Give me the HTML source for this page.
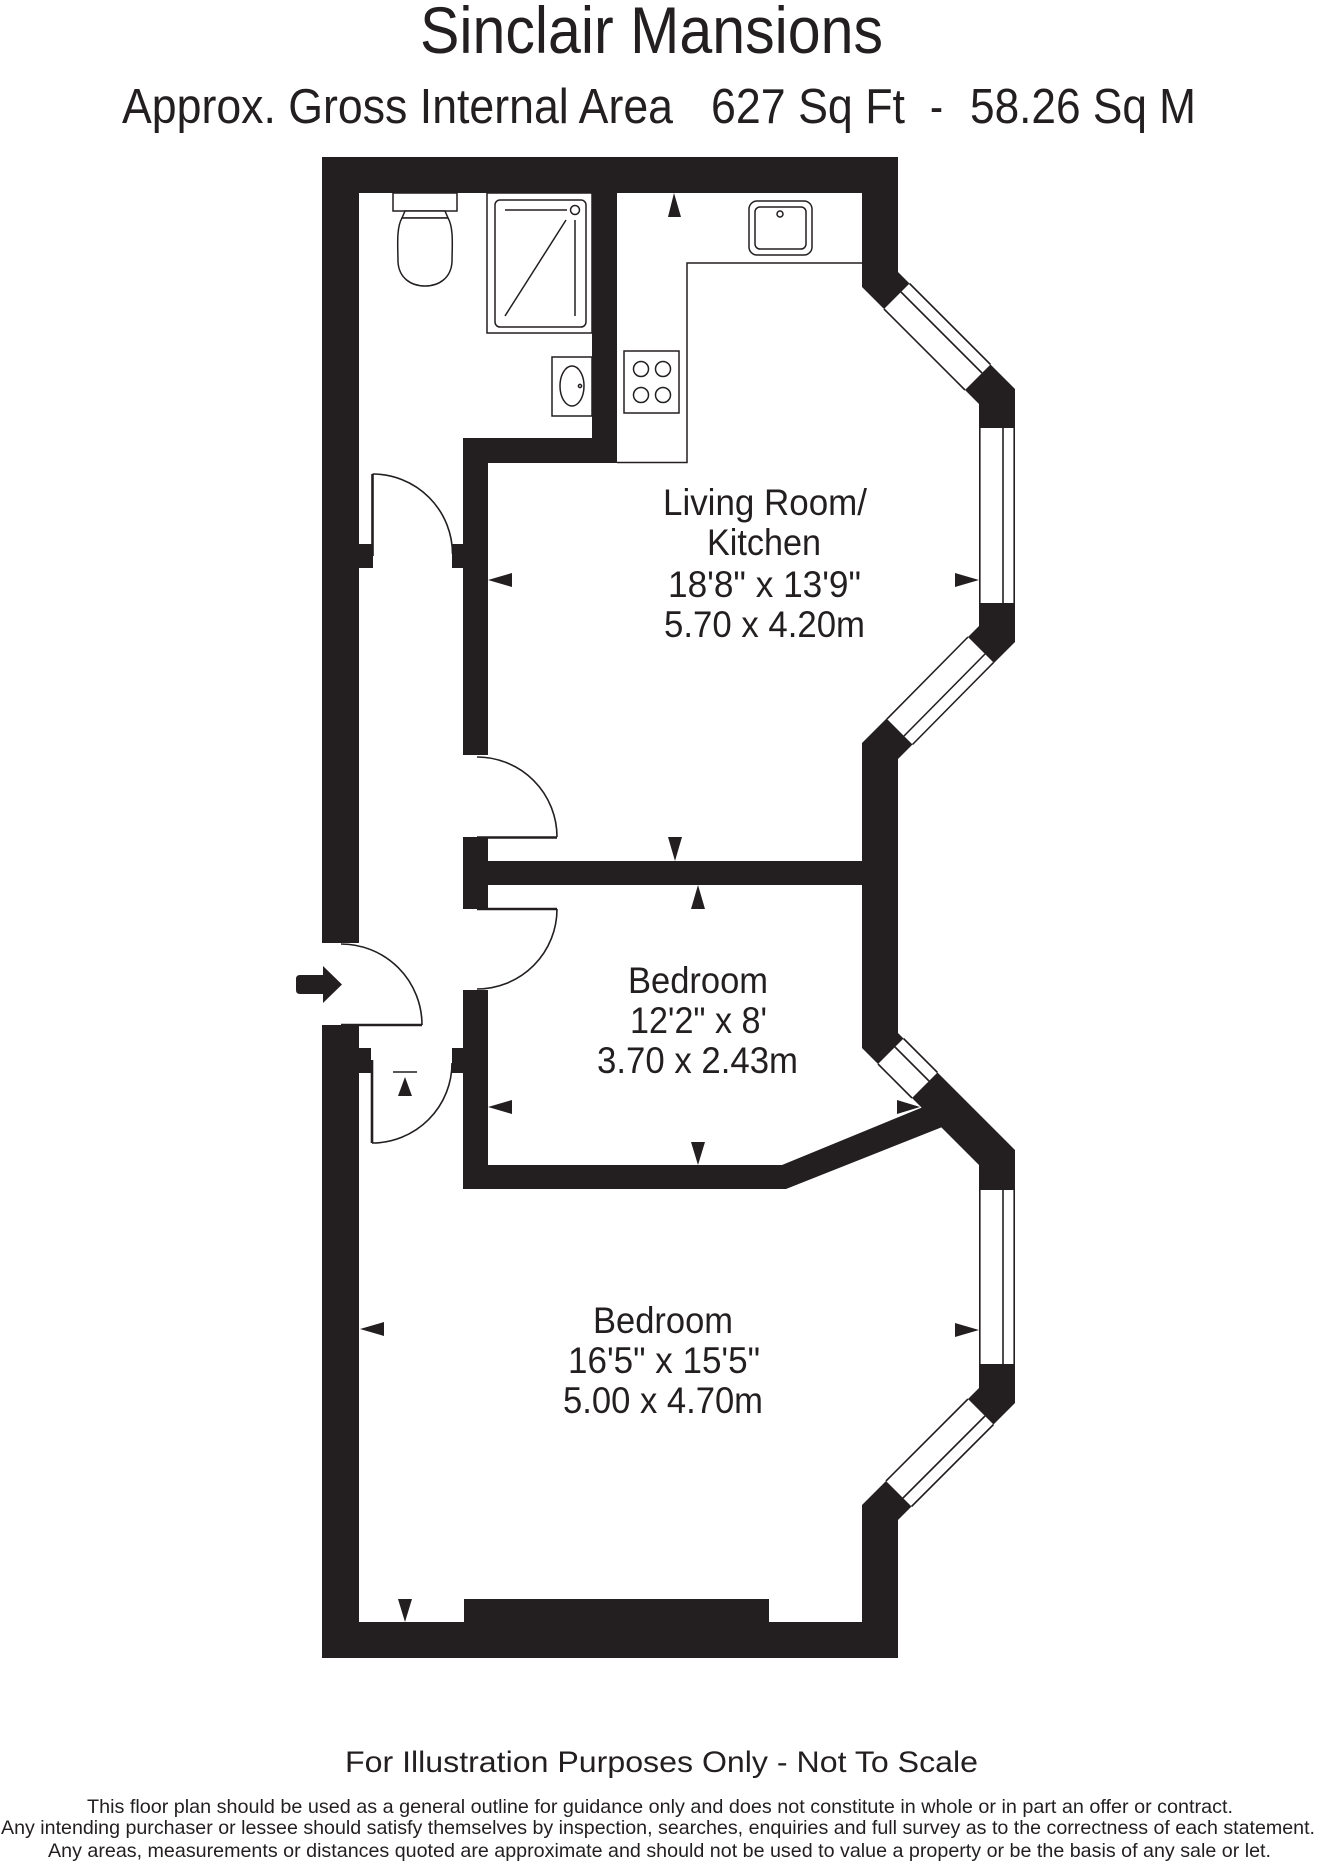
<!DOCTYPE html>
<html>
<head>
<meta charset="utf-8">
<style>
  html,body{margin:0;padding:0;background:#fff;}
  svg{display:block;}
  text{font-family:"Liberation Sans", Arial, sans-serif; fill:#231f20;}
</style>
</head>
<body>
<svg width="1320" height="1872" viewBox="0 0 1320 1872" xmlns="http://www.w3.org/2000/svg">
  <rect x="0" y="0" width="1320" height="1872" fill="#ffffff"/>

  <!-- Titles -->
  <text x="420" y="53" font-size="66" textLength="463" lengthAdjust="spacingAndGlyphs">Sinclair Mansions</text>
  <text x="122" y="123" font-size="49" textLength="551" lengthAdjust="spacingAndGlyphs">Approx. Gross Internal Area</text>
  <text x="711" y="123" font-size="49" textLength="194" lengthAdjust="spacingAndGlyphs">627 Sq Ft</text>
  <text x="930" y="123" font-size="49" textLength="13" lengthAdjust="spacingAndGlyphs">-</text>
  <text x="970" y="123" font-size="49" textLength="226" lengthAdjust="spacingAndGlyphs">58.26 Sq M</text>

  <!-- Walls -->
  <g fill="#231f20">
    <rect x="322" y="157" width="576" height="36"/>
    <rect x="322" y="157" width="37" height="786"/>
    <rect x="322" y="1025" width="37" height="633"/>
    <rect x="322" y="1622" width="576" height="36"/>
    <rect x="464" y="1599" width="305" height="24"/>
    <polygon points="862,157 898,157 898,272 1015,389 1015,642 898,759 898,1033 1015,1150 1015,1403 898,1520 898,1658 862,1658 862,1505 979,1388 979,1165 862,1048 862,743 979,626 979,404 862,287"/>
    <rect x="592" y="193" width="25" height="270"/>
    <rect x="463" y="438" width="154" height="25"/>
    <rect x="463" y="438" width="25" height="317"/>
    <rect x="452" y="544" width="12" height="24"/>
    <rect x="359" y="544" width="14" height="24"/>
    <rect x="463" y="837" width="25" height="72"/>
    <rect x="488" y="861" width="376" height="24"/>
    <rect x="463" y="990" width="25" height="199"/>
    <polygon points="463,1165 782,1165 950,1096 970,1116 786,1189 463,1189"/>
    <rect x="359" y="1048" width="12" height="25"/>
    <rect x="452" y="1048" width="12" height="25"/>
  </g>

  <!-- Windows -->
  <g stroke="#231f20" stroke-width="1.6" fill="none">
    <polygon points="884,309 965,390 990.5,364.5 909.5,283.5" fill="#fff" stroke="none"/>
    <line x1="884" y1="309" x2="965" y2="390"/>
    <line x1="901" y1="292" x2="982" y2="373"/>
    <line x1="909.5" y1="283.5" x2="990.5" y2="364.5"/>

    <rect x="979" y="428" width="36" height="175" fill="#fff" stroke="none"/>
    <line x1="979.8" y1="428" x2="979.8" y2="603"/>
    <line x1="1003" y1="428" x2="1003" y2="603"/>
    <line x1="1014.2" y1="428" x2="1014.2" y2="603"/>

    <polygon points="968,637 887,719 912.5,744.5 993.5,662.5" fill="#fff" stroke="none"/>
    <line x1="968" y1="637" x2="887" y2="719"/>
    <line x1="985" y1="654" x2="904" y2="736"/>
    <line x1="993.5" y1="662.5" x2="912.5" y2="744.5"/>

    <polygon points="878,1064 912,1098 937.5,1072.5 903.5,1038.5" fill="#fff" stroke="none"/>
    <line x1="878" y1="1064" x2="912" y2="1098"/>
    <line x1="895" y1="1047" x2="929" y2="1081"/>
    <line x1="903.5" y1="1038.5" x2="937.5" y2="1072.5"/>

    <rect x="979" y="1190" width="36" height="174" fill="#fff" stroke="none"/>
    <line x1="979.8" y1="1190" x2="979.8" y2="1364"/>
    <line x1="1003" y1="1190" x2="1003" y2="1364"/>
    <line x1="1014.2" y1="1190" x2="1014.2" y2="1364"/>

    <polygon points="968,1399 886,1481 911.5,1506.5 993.5,1424.5" fill="#fff" stroke="none"/>
    <line x1="968" y1="1399" x2="886" y2="1481"/>
    <line x1="985" y1="1416" x2="903" y2="1498"/>
    <line x1="993.5" y1="1424.5" x2="911.5" y2="1506.5"/>
  </g>

  <!-- Doors -->
  <g stroke="#231f20" fill="none">
    <line x1="372.5" y1="474" x2="372.5" y2="556" stroke-width="2.6"/>
    <path d="M372.5,474 A80,80 0 0 1 452.5,554" stroke-width="1.6"/>
    <line x1="477" y1="837.5" x2="557" y2="837.5" stroke-width="2.6"/>
    <path d="M477,757 A80,80 0 0 1 557,837" stroke-width="1.6"/>
    <line x1="477" y1="909" x2="557" y2="909" stroke-width="2.6"/>
    <path d="M557,909 A80,80 0 0 1 477,989" stroke-width="1.6"/>
    <line x1="341" y1="1025" x2="422" y2="1025" stroke-width="2.6"/>
    <path d="M341,944 A81,81 0 0 1 422,1025" stroke-width="1.6"/>
    <line x1="372" y1="1060" x2="372" y2="1143" stroke-width="2.6"/>
    <path d="M372,1143 A80,80 0 0 0 452,1063" stroke-width="1.6"/>
    <line x1="393" y1="1072" x2="417" y2="1072" stroke-width="1.6"/>
  </g>

  <!-- Entrance arrow -->
  <path d="M296,979 Q296,975 300,975 L323,975 L323,966 L342,984.5 L323,1003 L323,994 L300,994 Q296,994 296,990 Z" fill="#231f20"/>

  <!-- Fixtures -->
  <g stroke="#231f20" stroke-width="1.5" fill="#fff">
    <rect x="393" y="193" width="64" height="18"/>
    <path d="M405,211 L445,211 L448,218 L402,218 Z"/>
    <path d="M402,218 C396,228 398,248 398,262 C399,278 411,286 425,286 C439,286 451,278 452,262 C452,248 454,228 448,218 Z"/>
    <rect x="487" y="193" width="105" height="140"/>
    <rect x="495" y="200" width="91" height="127" rx="5"/>
    <line x1="505" y1="210" x2="567" y2="210"/>
    <circle cx="575" cy="210" r="4.5"/>
    <line x1="575" y1="220" x2="575" y2="316"/>
    <line x1="566" y1="220" x2="505" y2="316"/>
    <rect x="552" y="357" width="40" height="59"/>
    <ellipse cx="572" cy="386" rx="12" ry="20"/>
    <circle cx="580" cy="386" r="1.6"/>
    <rect x="624" y="351" width="55" height="62"/>
    <circle cx="641" cy="369" r="7.5"/>
    <circle cx="663" cy="369" r="7.5"/>
    <circle cx="641" cy="395" r="7.5"/>
    <circle cx="663" cy="395" r="7.5"/>
    <rect x="749" y="201" width="63" height="54" rx="8"/>
    <rect x="755" y="207" width="51" height="42" rx="5"/>
    <circle cx="780" cy="214" r="3"/>
  </g>
  <polyline points="617,462.5 687,462.5 687,263 862,263" fill="none" stroke="#231f20" stroke-width="1.5"/>

  <!-- Dimension markers -->
  <g fill="#231f20">
    <polygon points="674,193 668,217 681,217"/>
    <polygon points="488,580 512,573 512,587"/>
    <polygon points="979,580 955,573 955,587"/>
    <polygon points="675,861 668,837 682,837"/>
    <polygon points="698,885 691,909 705,909"/>
    <polygon points="488,1107 512,1100 512,1114"/>
    <polygon points="698,1165 691,1142 705,1142"/>
    <polygon points="920,1107 897,1100 897,1114"/>
    <polygon points="360,1329 384,1322 384,1336"/>
    <polygon points="979,1330 955,1323 955,1337"/>
    <polygon points="405,1622 398,1599 412,1599"/>
    <polygon points="405,1077 398,1096 412,1096"/>
  </g>

  <!-- Room labels -->
  <g font-size="37">
    <text x="663" y="515" textLength="204" lengthAdjust="spacingAndGlyphs">Living Room/</text>
    <text x="707" y="555" textLength="114" lengthAdjust="spacingAndGlyphs">Kitchen</text>
    <text x="668" y="597" textLength="193" lengthAdjust="spacingAndGlyphs">18'8&quot; x 13'9&quot;</text>
    <text x="664" y="637" textLength="201" lengthAdjust="spacingAndGlyphs">5.70 x 4.20m</text>

    <text x="628" y="993" textLength="140" lengthAdjust="spacingAndGlyphs">Bedroom</text>
    <text x="630" y="1033" textLength="137" lengthAdjust="spacingAndGlyphs">12'2&quot; x 8'</text>
    <text x="597" y="1073" textLength="201" lengthAdjust="spacingAndGlyphs">3.70 x 2.43m</text>

    <text x="593" y="1333" textLength="140" lengthAdjust="spacingAndGlyphs">Bedroom</text>
    <text x="568" y="1373" textLength="192" lengthAdjust="spacingAndGlyphs">16'5&quot; x 15'5&quot;</text>
    <text x="563" y="1413" textLength="200" lengthAdjust="spacingAndGlyphs">5.00 x 4.70m</text>
  </g>

  <!-- Footer -->
  <text x="345" y="1772" font-size="30" textLength="633" lengthAdjust="spacingAndGlyphs">For Illustration Purposes Only - Not To Scale</text>
  <text x="87" y="1813" font-size="19.5" textLength="1146" lengthAdjust="spacingAndGlyphs">This floor plan should be used as a general outline for guidance only and does not constitute in whole or in part an offer or contract.</text>
  <text x="1" y="1834" font-size="19.5" textLength="1314" lengthAdjust="spacingAndGlyphs">Any intending purchaser or lessee should satisfy themselves by inspection, searches, enquiries and full survey as to the correctness of each statement.</text>
  <text x="48" y="1857" font-size="19.5" textLength="1223" lengthAdjust="spacingAndGlyphs">Any areas, measurements or distances quoted are approximate and should not be used to value a property or be the basis of any sale or let.</text>
</svg>
</body>
</html>
